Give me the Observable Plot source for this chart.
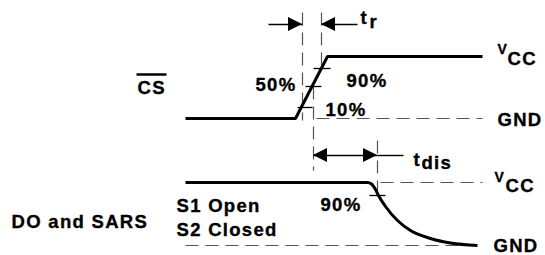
<!DOCTYPE html>
<html><head><meta charset="utf-8">
<script src="https://cdn.jsdelivr.net/npm/d3@7"></script>
<script src="https://cdn.jsdelivr.net/npm/@observablehq/plot@0.6"></script>
<style>
html,body{margin:0;padding:0;background:#fff;}
#chart svg text{letter-spacing:1.3px;font-weight:bold;}
</style></head><body><div id="chart"></div>
<script>
// ---- diagram data (time, level) ----
const csWave = [[185,118],[295,118],[327,56],[482,56]];
const doWave = [[185,182],[367,182],[371,183.5],[375,189],[378,195],[385,206],[397,220],[410,230],[430,238],[450,242.5],[477,245]];
// dashed reference lines [x1,y1,x2,y2]
const dashedLines = [
  [316,118,482,118],   // CS GND
  [380,182,482,182],   // DO VCC
  [185,245,475,245],   // DO GND
  [302,12,302,120],    // 10% crossing
  [321,12,321,68],     // 90% crossing
  [313,86,313,170],    // 50% crossing
  [377,140,377,200]    // DO 90%
];
// threshold ticks [x1,y1,x2,y2]
const ticks = [
  [297,107,312,107],
  [305,86,321,86],
  [313,68,330,68],
  [369,195,385,195]
];
// arrow shafts [x1,y1,x2,y2]
const shafts = [
  [268,24,302,24],
  [321,24,357,24],
  [313,155,377,155],
  [377,155,403,155]
];
// arrowheads: tip x, tip y, direction (+1 right, -1 left)
const heads = [[302,24,1],[321,24,-1],[313,155,-1],[377,155,1]];
const overline = [[136,74,166,74]];
// labels [x, baseline, text]
const mainLabels = [
  [507,64.5,"CC"],[497,125,"GND"],[505,191.5,"CC"],[493,251,"GND"],
  [137,93,"CS"],[255,90,"50%"],[346,86,"90%"],[325,115,"10%"],[320,210,"90%"],
  [176,211,"S1 Open"],[176,235,"S2 Closed"],[11,227,"DO and SARS"],
  [360,23,"t"],[413,165,"t"]
];
const subLabels = [[369,27,"r"],[421,168,"dis"]];
const smallLabels = [[497,53,"V"],[494,181,"V"]];

const fs = 18.5, fsSmall = 14, headLen = 14, headHalf = 7;
const headArea = heads.flatMap((h,i)=>[
  {x:h[0]-h[2]*headLen, y1:h[1]-headHalf, y2:h[1]+headHalf, z:i},
  {x:h[0], y1:h[1], y2:h[1], z:i}
]);
const seg = {x1:d=>d[0],y1:d=>d[1],x2:d=>d[2],y2:d=>d[3]};
const txt = (data,size)=>Plot.text(data,{x:d=>d[0],y:d=>d[1],text:d=>d[2],textAnchor:"start",
  fontSize:size,fontWeight:"bold",fill:"black",stroke:"black",strokeWidth:0.35,dy:-0.32*size});

const chart = Plot.plot({
  width:545, height:255, margin:0,
  x:{domain:[0,545], range:[0,545], axis:null},
  y:{domain:[0,255], range:[0,255], axis:null},
  style:{background:"#fff", fontFamily:"'Liberation Sans', Arial, sans-serif"},
  marks:[
    Plot.link(dashedLines,{...seg, stroke:"#555", strokeWidth:1.2, strokeDasharray:"13,7"}),
    Plot.link(ticks,{...seg, stroke:"black", strokeWidth:1.3}),
    Plot.link(shafts,{...seg, stroke:"black", strokeWidth:1.4}),
    Plot.areaY(headArea,{x:"x", y1:"y1", y2:"y2", z:"z", fill:"black"}),
    Plot.line(csWave,{stroke:"black",strokeWidth:3,strokeLinecap:"butt",strokeLinejoin:"miter"}),
    Plot.line(doWave,{stroke:"black",strokeWidth:3,curve:"monotone-x",strokeLinecap:"butt"}),
    Plot.link(overline,{...seg, stroke:"black", strokeWidth:2.5}),
    txt(mainLabels,fs),
    txt(subLabels,fs),
    txt(smallLabels,fsSmall)
  ]
});
document.getElementById("chart").append(chart);
</script></body></html>
